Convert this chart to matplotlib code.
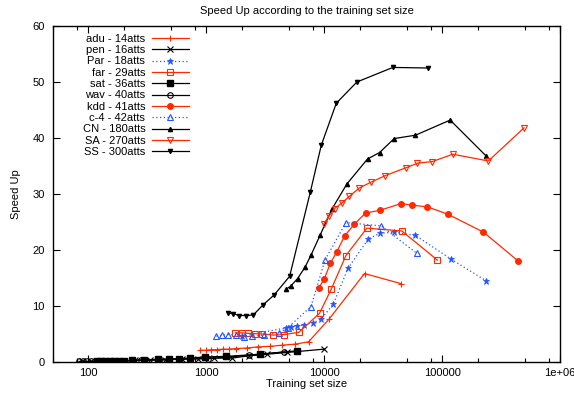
import numpy as np
import matplotlib
matplotlib.use("Agg")
import matplotlib.pyplot as plt
from matplotlib.ticker import FixedLocator, FuncFormatter, NullFormatter

plt.rcParams['font.family'] = ['Liberation Sans', 'DejaVu Sans']

RED = "#ff2a00"
BLUE = "#2255ff"

# training set size / speed up
adu_x = [889, 994, 1102, 1232, 1374, 1545, 1785, 2213, 2742, 3485, 4382, 5680, 7360, 11020, 21970, 44650]
adu_y = [2.1, 2.1, 2.2, 2.2, 2.3, 2.3, 2.4, 2.5, 2.7, 2.8, 3.0, 3.2, 3.6, 7.7, 15.8, 14.0]

pen_x = [88, 105, 125, 150, 190, 250, 330, 450, 620, 850, 1150, 1650, 2300, 3300, 4830, 10000]
pen_y = [0.1, 0.1, 0.1, 0.2, 0.2, 0.3, 0.3, 0.4, 0.5, 0.6, 0.7, 0.7, 1.1, 1.4, 1.7, 2.3]

par_x = [2009, 4764, 5220, 5870, 6680, 8020, 9440, 11920, 15870, 23700, 30000, 39200, 59400, 118300, 236000]
par_y = [4.6, 6.1, 6.3, 6.5, 6.6, 7.0, 7.7, 10.3, 16.7, 22.0, 23.0, 23.2, 22.6, 18.4, 14.5]

far_x = [1762, 2008, 2270, 2602, 2983, 3675, 4580, 6080, 9120, 11460, 15270, 23000, 45500, 91200]
far_y = [5.2, 5.2, 5.1, 5.05, 5.0, 4.8, 4.9, 5.3, 8.7, 13.0, 19.0, 23.9, 23.4, 18.2]

sat_x = [118, 128, 139, 151, 164, 181, 199, 234, 294, 390, 480, 590, 731, 968, 1469, 2868, 5870]
sat_y = [0.15, 0.15, 0.15, 0.2, 0.2, 0.2, 0.2, 0.3, 0.4, 0.5, 0.55, 0.6, 0.7, 0.9, 1.0, 1.4, 2.0]

wav_x = [83, 90, 97, 105, 120, 150, 200, 280, 400, 600, 1040, 2300, 4600]
wav_y = [0.1, 0.1, 0.1, 0.1, 0.15, 0.2, 0.2, 0.3, 0.4, 0.5, 0.6, 1.2, 1.8]

kdd_x = [8950, 10000, 11250, 12810, 14870, 17960, 22400, 29840, 44950, 56000, 75000, 111700, 223900, 443500]
kdd_y = [13.2, 14.8, 17.6, 19.7, 22.5, 24.6, 26.6, 27.1, 28.3, 28.0, 27.7, 26.4, 23.2, 18.0]

c4_x = [1216, 1367, 1537, 1771, 2072, 2455, 3060, 4100, 4890, 7710, 10190, 15270, 30400, 61100]
c4_y = [4.6, 4.8, 4.9, 4.8, 4.5, 4.6, 4.8, 5.2, 6.1, 9.9, 18.3, 24.9, 24.3, 19.4]

cn_x = [4764, 5220, 5940, 6860, 7710, 9250, 11610, 15570, 23280, 29460, 39200, 59400, 117000, 236000]
cn_y = [13.0, 13.6, 14.9, 16.9, 19.05, 22.7, 27.3, 31.8, 36.25, 37.4, 39.9, 40.5, 43.2, 36.8]

sa_x = [9860, 11020, 12220, 14120, 16370, 19910, 24880, 33060, 49550, 61800, 82800, 123300, 246600, 495000]
sa_y = [24.6, 26.1, 27.4, 28.4, 29.6, 31.1, 32.1, 33.3, 34.7, 35.5, 35.8, 37.1, 35.9, 41.8]

ss_x = [1536, 1694, 1905, 2183, 2503, 3025, 3770, 5085, 7610, 9435, 12650, 18920, 38200, 75700]
ss_y = [8.75, 8.6, 8.3, 8.3, 8.4, 10.2, 12.0, 15.3, 30.3, 38.7, 46.2, 50.0, 52.6, 52.5]

fig = plt.figure(figsize=(5.74, 3.98), dpi=100)
ax = fig.add_axes([53/574, 36/398, 507/574, 336/398])

lw = 0.9
ax.plot(adu_x, adu_y, color=RED, lw=lw, marker="+", ms=5, mew=0.8, label="adu - 14atts")
ax.plot(pen_x, pen_y, color="black", lw=lw, marker="x", ms=4, mew=0.8, label="pen - 16atts")
ax.plot(par_x, par_y, color=BLUE, lw=lw, ls=(0, (1, 2)), marker="*", ms=5, mew=0.6, label="Par - 18atts")
ax.plot(far_x, far_y, color=RED, lw=lw, marker="s", ms=4.5, mfc="none", mew=0.8, label="far - 29atts")
ax.plot(sat_x, sat_y, color="black", lw=lw, marker="s", ms=4.5, label="sat - 36atts")
ax.plot(wav_x, wav_y, color="black", lw=lw, marker="o", ms=4, mfc="none", mew=0.8, label="wav - 40atts")
ax.plot(kdd_x, kdd_y, color=RED, lw=lw, marker="o", ms=4, label="kdd - 41atts")
ax.plot(c4_x, c4_y, color=BLUE, lw=lw, ls=(0, (1, 2)), marker="^", ms=4.5, mfc="none", mew=0.8, label="c-4 - 42atts")
ax.plot(cn_x, cn_y, color="black", lw=lw, marker="^", ms=3, label="CN - 180atts")
ax.plot(sa_x, sa_y, color=RED, lw=lw, marker="v", ms=4.5, mfc="none", mew=0.8, label="SA - 270atts")
ax.plot(ss_x, ss_y, color="black", lw=lw, marker="v", ms=3, label="SS - 300atts")

ax.set_xscale("log")
ax.set_xlim(50, 1e6)
ax.set_ylim(0, 60)

ax.xaxis.set_major_locator(FixedLocator([100, 1000, 10000, 100000, 1e6]))
ax.xaxis.set_major_formatter(FuncFormatter(lambda v, p: "1e+06" if v >= 1e6 else "%d" % v))
minors = [m * 10**e for e in range(1, 6) for m in (2, 5, 8)]
ax.xaxis.set_minor_locator(FixedLocator(minors))
ax.xaxis.set_minor_formatter(NullFormatter())
ax.set_yticks(np.arange(0, 61, 10))

ax.tick_params(which="both", direction="in", top=True, right=True, labelsize=8)
ax.tick_params(axis="x", pad=4)
ax.tick_params(axis="y", pad=6)
ax.tick_params(which="major", length=5, width=0.8)
ax.tick_params(which="minor", length=3, width=0.8)
for s in ax.spines.values():
    s.set_linewidth(1.0)

ax.set_title("Speed Up according to the training set size", fontsize=8, pad=9)
ax.set_xlabel("Training set size", fontsize=8, labelpad=1)
ax.set_ylabel("Speed Up", fontsize=8, labelpad=8)

ax.legend(loc="upper left", bbox_to_anchor=(0.043, 1.0), markerfirst=False, frameon=False,
          fontsize=8, handlelength=3.3, labelspacing=0.12, borderaxespad=0.3, handletextpad=0.6)

plt.savefig("out.png", dpi=100)
